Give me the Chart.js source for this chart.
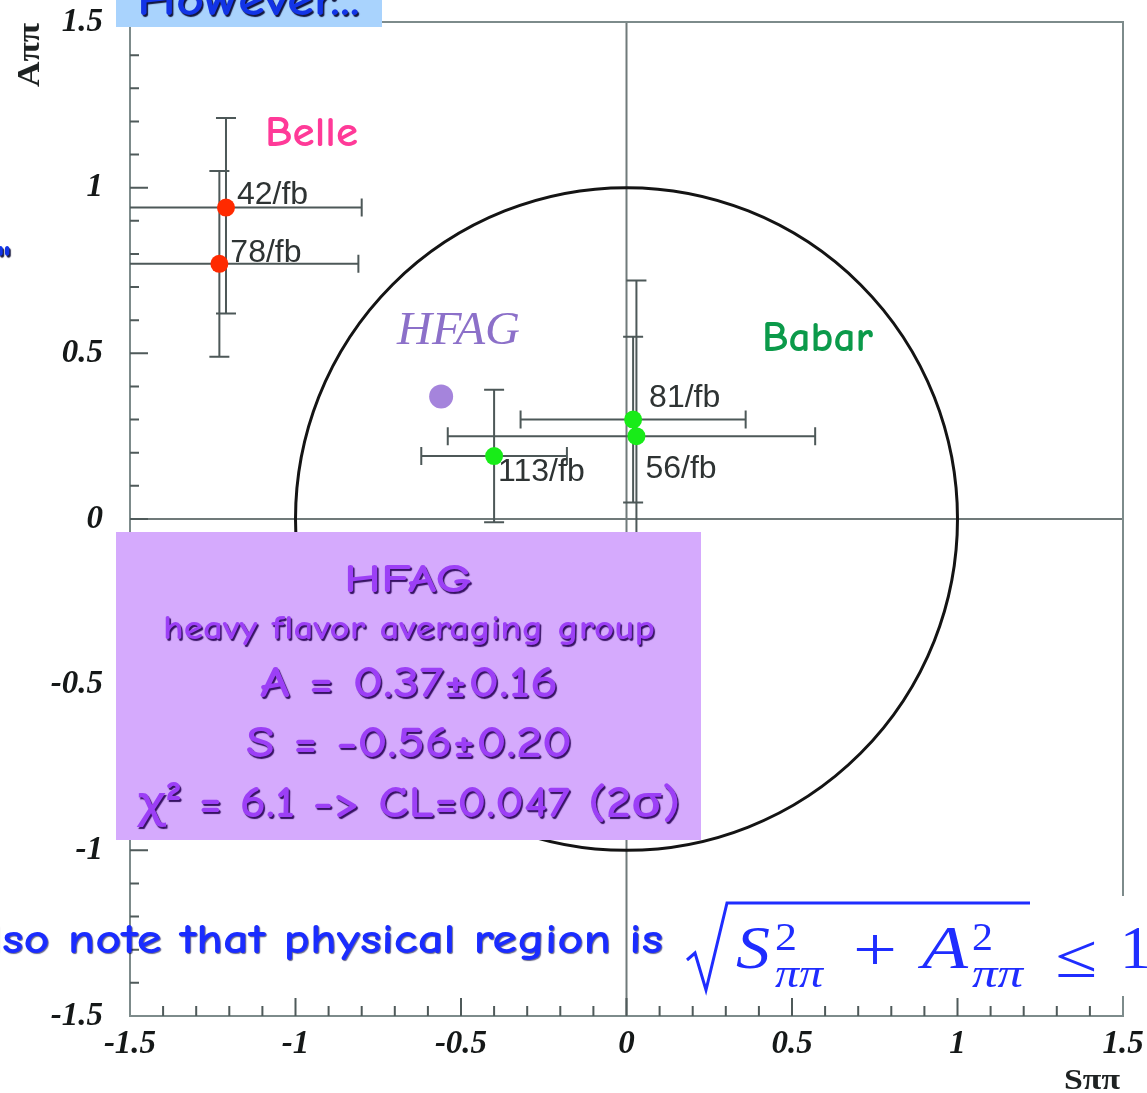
<!DOCTYPE html>
<html>
<head>
<meta charset="utf-8">
<script src="https://cdn.jsdelivr.net/npm/chart.js@4.4.1/dist/chart.umd.min.js"></script>
<style>
  html, body { margin: 0; padding: 0; background: #ffffff; overflow: hidden; }
  #wrap { position: relative; width: 1147px; height: 1093px; }
</style>
</head>
<body>
<div id="wrap"><canvas id="c" width="1147" height="1093"></canvas></div>
<script>
// Belle measurements of S_pipi (x) and A_pipi (y), with asymmetric errors
const belleLabels = ['42/fb', '78/fb'];
const belleS = [-1.21, -1.23];
const belleSErrMinus = [0.30, 0.42];
const belleSErrPlus = [0.41, 0.42];
const belleA = [0.94, 0.77];
const belleAErrMinus = [0.32, 0.28];
const belleAErrPlus = [0.27, 0.28];

// BaBar measurements
const babarLabels = ['81/fb', '56/fb', '113/fb'];
const babarS = [0.02, 0.03, -0.40];
const babarSErrMinus = [0.34, 0.57, 0.22];
const babarSErrPlus = [0.34, 0.54, 0.22];
const babarA = [0.30, 0.25, 0.19];
const babarAErrMinus = [0.25, 0.47, 0.20];
const babarAErrPlus = [0.25, 0.47, 0.20];

// HFAG world average
const hfagS = [-0.56];
const hfagSErr = [0.20];
const hfagA = [0.37];
const hfagAErr = [0.16];
const hfagChi2 = 6.1;
const hfagCL = 0.047;

// Axis ticks (same on both axes)
const axisTicks = [-1.5, -1, -0.5, 0, 0.5, 1, 1.5];
const axisTickLabels = ['-1.5', '-1', '-0.5', '0', '0.5', '1', '1.5'];
const minorStep = 0.1;

// Physical region boundary: sqrt(S^2 + A^2) <= 1
const physicalRadius = [1];

// label placement next to each point (pixels)
const belleLabelOffsets = [[11, -12], [11, -11]];
const babarLabelOffsets = [[16, -21], [9, 33], [4, 16]];

const COMIC = "'Comic Sans MS', 'Comic Neue', 'Open Sans', sans-serif";
const SERIF = "'Liberation Serif', 'Times New Roman', serif";

function pts(xs, ys) { return xs.map((x, i) => ({ x: x, y: ys[i] })); }

function fitText(ctx, text, x, y, width, align) {
  const w = ctx.measureText(text).width;
  const k = width / w;
  ctx.save();
  ctx.translate(x, y);
  ctx.scale(k, 1);
  ctx.textAlign = align || 'left';
  ctx.fillText(text, 0, 0);
  ctx.restore();
}

const frameAndBars = {
  id: 'frameAndBars',
  beforeDatasetsDraw(chart) {
    const ctx = chart.ctx;
    const xs = chart.scales.x, ys = chart.scales.y;
    const a = chart.chartArea;

    ctx.save();
    // crosshair at S=0 and A=0
    ctx.strokeStyle = '#707a7a';
    ctx.lineWidth = 2;
    ctx.beginPath();
    const x0 = xs.getPixelForValue(0), y0 = ys.getPixelForValue(0);
    ctx.moveTo(x0, a.top); ctx.lineTo(x0, a.bottom);
    ctx.moveTo(a.left, y0); ctx.lineTo(a.right, y0);
    ctx.stroke();

    // frame
    ctx.strokeStyle = '#7d8b8b';
    ctx.lineWidth = 2;
    ctx.strokeRect(a.left, a.top, a.right - a.left, a.bottom - a.top);

    // inward ticks on left and bottom axes
    ctx.strokeStyle = '#4f5a5a';
    ctx.lineWidth = 2;
    ctx.beginPath();
    const n = Math.round((axisTicks[axisTicks.length - 1] - axisTicks[0]) / minorStep);
    for (let k = 1; k < n; k++) {
      const v = axisTicks[0] + k * minorStep;
      const major = k % 5 === 0;
      const py = ys.getPixelForValue(v);
      ctx.moveTo(a.left, py); ctx.lineTo(a.left + (major ? 18 : 9), py);
      const px = xs.getPixelForValue(v);
      ctx.moveTo(px, a.bottom); ctx.lineTo(px, a.bottom - (major ? 18 : 10));
    }
    ctx.stroke();

    // physical region circle
    const cx = xs.getPixelForValue(0), cy = ys.getPixelForValue(0);
    const rx = xs.getPixelForValue(physicalRadius[0]) - cx;
    const ry = cy - ys.getPixelForValue(physicalRadius[0]);
    ctx.strokeStyle = '#141414';
    ctx.lineWidth = 3;
    ctx.beginPath();
    ctx.ellipse(cx, cy, rx, ry, 0, 0, Math.PI * 2);
    ctx.stroke();

    // error bars
    ctx.beginPath();
    ctx.rect(a.left, a.top, a.right - a.left, a.bottom - a.top);
    ctx.clip();
    ctx.strokeStyle = '#4d5858';
    ctx.lineWidth = 2;
    function bars(S, sm, sp, A, am, ap) {
      for (let i = 0; i < S.length; i++) {
        const px = xs.getPixelForValue(S[i]), py = ys.getPixelForValue(A[i]);
        const xl = xs.getPixelForValue(S[i] - sm[i]), xr = xs.getPixelForValue(S[i] + sp[i]);
        const yt = ys.getPixelForValue(A[i] + ap[i]), yb = ys.getPixelForValue(A[i] - am[i]);
        ctx.beginPath();
        ctx.moveTo(xl, py); ctx.lineTo(xr, py);
        ctx.moveTo(xl, py - 9); ctx.lineTo(xl, py + 9);
        ctx.moveTo(xr, py - 9); ctx.lineTo(xr, py + 9);
        ctx.moveTo(px, yt); ctx.lineTo(px, yb);
        ctx.moveTo(px - 10, yt); ctx.lineTo(px + 10, yt);
        ctx.moveTo(px - 10, yb); ctx.lineTo(px + 10, yb);
        ctx.stroke();
      }
    }
    bars(belleS, belleSErrMinus, belleSErrPlus, belleA, belleAErrMinus, belleAErrPlus);
    bars(babarS, babarSErrMinus, babarSErrPlus, babarA, babarAErrMinus, babarAErrPlus);
    ctx.restore();
  },
  afterDatasetsDraw(chart) {
    const ctx = chart.ctx;
    const xs = chart.scales.x, ys = chart.scales.y;
    ctx.save();

    // luminosity labels
    ctx.font = "32px 'Liberation Sans', Arial, sans-serif";
    ctx.fillStyle = '#2e3333';
    ctx.textBaseline = 'middle';
    ctx.textAlign = 'left';
    belleLabels.forEach((t, i) => {
      ctx.fillText(t, xs.getPixelForValue(belleS[i]) + belleLabelOffsets[i][0],
                      ys.getPixelForValue(belleA[i]) + belleLabelOffsets[i][1]);
    });
    babarLabels.forEach((t, i) => {
      ctx.fillText(t, xs.getPixelForValue(babarS[i]) + babarLabelOffsets[i][0],
                      ys.getPixelForValue(babarA[i]) + babarLabelOffsets[i][1]);
    });

    // experiment names
    ctx.textBaseline = 'alphabetic';
    ctx.font = '600 42px ' + COMIC;
    ctx.fillStyle = '#ff3a98';
    fitText(ctx, 'Belle', 265, 146, 93);
    ctx.fillStyle = '#0b9a4a';
    fitText(ctx, 'Babar', 762, 351, 111);
    ctx.font = 'italic 46px ' + SERIF;
    ctx.fillStyle = '#8c70c9';
    fitText(ctx, 'HFAG', 397, 344, 123);

    // axis titles
    ctx.fillStyle = '#1e2222';
    ctx.font = 'bold 32px ' + SERIF;
    ctx.save();
    ctx.translate(31, 55);
    ctx.rotate(-Math.PI / 2);
    ctx.textBaseline = 'middle';
    fitText(ctx, 'Aππ', 0, 0, 64, 'center');
    ctx.restore();
    ctx.textBaseline = 'middle';
    ctx.font = 'bold 30px ' + SERIF;
    fitText(ctx, 'Sππ', 1092, 1081, 56, 'center');

    // HFAG summary panel
    ctx.fillStyle = '#d5aafd';
    ctx.fillRect(116, 532, 585, 308);
    ctx.textBaseline = 'alphabetic';
    ctx.shadowColor = 'rgba(45,10,90,0.95)';
    ctx.shadowOffsetX = 1.5;
    ctx.shadowOffsetY = 1.5;
    ctx.shadowBlur = 1;
    ctx.fillStyle = '#9c3ff6';
    ctx.font = '600 40px ' + COMIC;
    fitText(ctx, 'HFAG', 408, 592, 128, 'center');
    ctx.font = '600 34px ' + COMIC;
    fitText(ctx, 'heavy flavor averaging group', 409, 639, 492, 'center');
    ctx.font = '600 44px ' + COMIC;
    fitText(ctx, 'A = ' + hfagA[0].toFixed(2) + '±' + hfagAErr[0].toFixed(2), 409, 697, 298, 'center');
    fitText(ctx, 'S = ' + hfagS[0].toFixed(2) + '±' + hfagSErr[0].toFixed(2), 409, 757, 326, 'center');
    fitText(ctx, 'χ² = ' + hfagChi2.toFixed(1) + ' -> CL=' + hfagCL.toFixed(3) + ' (2σ)', 409, 817, 543, 'center');

    // slide header box
    ctx.shadowColor = 'rgba(0,0,0,0)';
    ctx.fillStyle = '#a9d3fd';
    ctx.fillRect(116, 0, 266, 27);
    ctx.shadowColor = 'rgba(0,0,40,0.9)';
    ctx.shadowOffsetX = 1.5;
    ctx.shadowOffsetY = 1.5;
    ctx.fillStyle = '#1234e6';
    ctx.font = '600 46px ' + COMIC;
    fitText(ctx, 'However...', 137, 15, 223);
    ctx.font = '600 44px ' + COMIC;
    ctx.textAlign = 'right';
    ctx.fillText('"', 11, 276);

    // note about the physical region
    ctx.shadowColor = 'rgba(0,0,60,0.6)';
    ctx.shadowOffsetX = 1;
    ctx.shadowOffsetY = 1;
    ctx.fillStyle = '#1a2cff';
    ctx.font = '600 42px ' + COMIC;
    const full = 'Also note that physical region is';
    const kw = 661 / (ctx.measureText(full).width - ctx.measureText('Al').width);
    ctx.save();
    ctx.translate(663, 953);
    ctx.scale(kw, 1);
    ctx.textAlign = 'right';
    ctx.fillText(full, 0, 0);
    ctx.restore();

    // formula sqrt(S^2 + A^2) <= 1
    ctx.shadowColor = 'rgba(0,0,0,0)';
    ctx.fillStyle = '#ffffff';
    ctx.fillRect(683, 896, 464, 100);
    ctx.strokeStyle = '#1f2dff';
    ctx.fillStyle = '#1f2dff';
    ctx.lineWidth = 3;
    ctx.lineJoin = 'miter';
    ctx.beginPath();
    ctx.moveTo(687, 960); ctx.lineTo(695, 953);
    ctx.lineTo(706, 990); ctx.lineTo(727, 903); ctx.lineTo(1030, 903);
    ctx.stroke();
    ctx.textAlign = 'left';
    ctx.textBaseline = 'alphabetic';
    ctx.font = 'italic 62px ' + SERIF;
    fitText(ctx, 'S', 736, 968, 34);
    fitText(ctx, 'A', 922, 968, 46);
    ctx.font = '40px ' + SERIF;
    fitText(ctx, '2', 775, 950, 22);
    fitText(ctx, '2', 972, 950, 21);
    ctx.font = 'italic 40px ' + SERIF;
    fitText(ctx, 'ππ', 775, 987, 48);
    fitText(ctx, 'ππ', 972, 987, 51);
    ctx.font = '62px ' + SERIF;
    fitText(ctx, '+', 853, 970, 44);
    fitText(ctx, '≤', 1055, 977, 42);
    ctx.fillText('1', 1120, 968);

    ctx.restore();
  }
};

const chart = new Chart(document.getElementById('c'), {
  type: 'scatter',
  data: {
    datasets: [
      { label: 'Belle', data: pts(belleS, belleA), pointRadius: 9, pointBackgroundColor: '#ff2a00', pointBorderWidth: 0 },
      { label: 'BaBar', data: pts(babarS, babarA), pointRadius: 9, pointBackgroundColor: '#18ec18', pointBorderWidth: 0 },
      { label: 'HFAG', data: pts(hfagS, hfagA), pointRadius: 12, pointBackgroundColor: '#a584dc', pointBorderWidth: 0 }
    ]
  },
  options: {
    responsive: false,
    animation: false,
    devicePixelRatio: 1,
    events: [],
    layout: { padding: { top: 22, right: 24, left: 0, bottom: 0 } },
    plugins: { legend: { display: false }, tooltip: { enabled: false } },
    scales: {
      x: {
        type: 'linear', position: 'bottom',
        min: axisTicks[0], max: axisTicks[axisTicks.length - 1],
        afterBuildTicks(s) { s.ticks = axisTicks.map(v => ({ value: v })); },
        grid: { display: false, drawTicks: false },
        border: { display: false },
        ticks: {
          padding: 9,
          color: '#151818',
          font: { family: SERIF, style: 'italic', weight: 'bold', size: 33 },
          callback: (v) => axisTickLabels[axisTicks.indexOf(v)]
        },
        afterFit(s) { s.height = 77; s.paddingLeft = 0; s.paddingRight = 0; }
      },
      y: {
        type: 'linear', position: 'left',
        min: axisTicks[0], max: axisTicks[axisTicks.length - 1],
        afterBuildTicks(s) { s.ticks = axisTicks.map(v => ({ value: v })); },
        grid: { display: false, drawTicks: false },
        border: { display: false },
        ticks: {
          padding: 27,
          color: '#151818',
          font: { family: SERIF, style: 'italic', weight: 'bold', size: 33 },
          callback: (v) => axisTickLabels[axisTicks.indexOf(v)]
        },
        afterFit(s) { s.width = 130; s.paddingTop = 0; s.paddingBottom = 0; }
      }
    }
  },
  plugins: [frameAndBars]
});
</script>
</body>
</html>
